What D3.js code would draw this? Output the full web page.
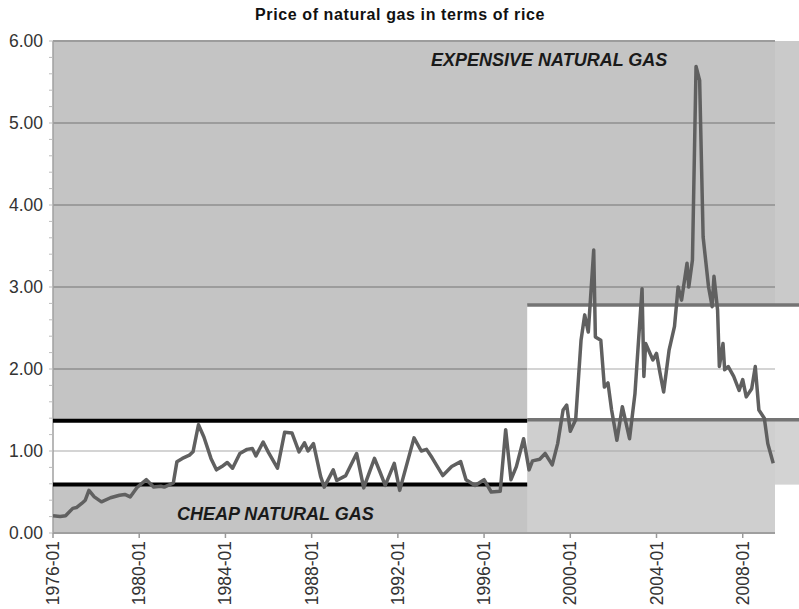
<!DOCTYPE html>
<html><head><meta charset="utf-8">
<script src="https://cdn.jsdelivr.net/npm/d3@7"></script>
<style>body{margin:0;background:#fff}svg{display:block;font-family:"Liberation Sans",Arial,sans-serif}</style>
</head><body><svg id="c" width="799" height="609"></svg>
<script>
const chartTitle = "Price of natural gas in terms of rice";
const dates = ["1976-01","1976-05","1976-08","1976-12","1977-02","1977-05","1977-07","1977-09","1977-12","1978-04","1978-09","1979-02","1979-05","1979-08","1979-12","1980-05","1980-09","1981-01","1981-03","1981-08","1981-10","1982-01","1982-05","1982-07","1982-10","1983-01","1983-05","1983-08","1983-11","1984-02","1984-05","1984-09","1985-01","1985-04","1985-06","1985-10","1986-01","1986-06","1986-10","1987-02","1987-06","1987-09","1987-11","1988-02","1988-06","1988-08","1989-01","1989-03","1989-08","1990-02","1990-06","1990-12","1991-03","1991-06","1991-11","1992-02","1992-10","1993-02","1993-05","1993-08","1994-02","1994-07","1994-12","1995-03","1995-08","1996-01","1996-05","1996-10","1997-01","1997-04","1997-07","1997-11","1998-02","1998-04","1998-08","1998-11","1999-03","1999-06","1999-09","1999-11","2000-01","2000-04","2000-07","2000-09","2000-11","2001-02","2001-03","2001-06","2001-08","2001-10","2001-12","2002-03","2002-06","2002-10","2003-01","2003-05","2003-06","2003-07","2003-11","2004-01","2004-03","2004-05","2004-08","2004-11","2005-01","2005-03","2005-06","2005-07","2005-09","2005-11","2006-01","2006-03","2006-06","2006-08","2006-09","2006-11","2006-12","2007-02","2007-03","2007-05","2007-08","2007-11","2008-01","2008-03","2008-06","2008-08","2008-10","2009-01","2009-03","2009-06"];
const values = [0.21,0.20,0.21,0.30,0.31,0.36,0.40,0.52,0.44,0.38,0.43,0.46,0.47,0.44,0.56,0.65,0.56,0.57,0.56,0.61,0.87,0.91,0.95,0.99,1.32,1.17,0.91,0.77,0.81,0.86,0.79,0.97,1.02,1.03,0.94,1.11,0.98,0.79,1.23,1.22,0.99,1.10,1.00,1.09,0.69,0.56,0.77,0.64,0.70,0.97,0.55,0.91,0.75,0.58,0.85,0.52,1.16,1.00,1.02,0.92,0.70,0.81,0.87,0.65,0.58,0.65,0.50,0.51,1.26,0.65,0.81,1.15,0.77,0.88,0.90,0.97,0.83,1.09,1.50,1.56,1.24,1.38,2.35,2.66,2.45,3.45,2.39,2.35,1.78,1.83,1.50,1.13,1.54,1.15,1.70,2.98,1.91,2.31,2.11,2.19,1.95,1.72,2.23,2.52,3.00,2.84,3.29,3.00,3.33,5.69,5.52,3.61,3.00,2.76,3.13,2.72,2.03,2.31,1.99,2.03,1.91,1.74,1.87,1.66,1.76,2.03,1.50,1.40,1.09,0.85];
const yTicks = [0,1,2,3,4,5,6];
const xTickLabels = ["1976-01","1980-01","1984-01","1988-01","1992-01","1996-01","2000-01","2004-01","2008-01"];
const cheapBand = [0.59, 1.37];
const expensiveBand = [1.38, 2.78];
const regimeBreak = "1998-01";
const domainEnd = "2009-07";
const labelExpensive = "EXPENSIVE NATURAL GAS";
const labelCheap = "CHEAP NATURAL GAS";

const parse = d3.timeParse("%Y-%m");
const svg = d3.select("#c");
const L = 53, R = 775, T = 41, B = 533, W = 799;
const x = d3.scaleTime().domain([parse(dates[0]), parse(domainEnd)]).range([L, R]);
const y = d3.scaleLinear().domain([0, 6]).range([B, T]);
const xb = x(parse(regimeBreak));

// background
svg.append("rect").attr("x", L).attr("y", T).attr("width", R - L).attr("height", B - T).attr("fill", "#c4c4c4");
svg.append("rect").attr("x", R).attr("y", T).attr("width", W - R).attr("height", y(expensiveBand[1]) - T).attr("fill", "#cacaca");
svg.append("rect").attr("x", xb).attr("y", y(expensiveBand[0])).attr("width", R - xb).attr("height", B - y(expensiveBand[0])).attr("fill", "#cfcfcf");
svg.append("rect").attr("x", R).attr("y", y(expensiveBand[0])).attr("width", W - R).attr("height", y(cheapBand[0]) - y(expensiveBand[0])).attr("fill", "#d3d3d3");

// dark gridlines
svg.append("g").selectAll("line").data(yTicks).join("line")
  .attr("x1", L).attr("x2", R).attr("y1", d => y(d)).attr("y2", d => y(d))
  .attr("stroke", "#9c9c9c").attr("stroke-width", 2);

// white bands
const bands = [
  {x0: L, x1: xb, lo: cheapBand[0], hi: cheapBand[1]},
  {x0: xb, x1: W, lo: expensiveBand[0], hi: expensiveBand[1]}
];
svg.append("g").selectAll("rect").data(bands).join("rect")
  .attr("x", d => d.x0).attr("y", d => y(d.hi)).attr("width", d => d.x1 - d.x0)
  .attr("height", d => y(d.lo) - y(d.hi)).attr("fill", "#fff");
const lightZones = [
  {x0: L, x1: xb, lo: cheapBand[0], hi: cheapBand[1]},
  {x0: xb, x1: R, lo: expensiveBand[0], hi: expensiveBand[1]},
  {x0: xb, x1: R, lo: 0.05, hi: expensiveBand[0]}
];
lightZones.forEach(z => {
  svg.append("g").selectAll("line").data(yTicks.filter(t => t > z.lo && t < z.hi)).join("line")
    .attr("x1", z.x0).attr("x2", z.x1).attr("y1", d => y(d)).attr("y2", d => y(d))
    .attr("stroke", "#c6c6c6").attr("stroke-width", 1.5);
});

// axes
svg.append("line").attr("x1", L).attr("x2", L).attr("y1", T).attr("y2", B).attr("stroke", "#a0a0a0").attr("stroke-width", 1.5);
svg.append("line").attr("x1", L).attr("x2", R).attr("y1", B).attr("y2", B).attr("stroke", "#a0a0a0").attr("stroke-width", 1.5);
const minor = d3.range(0, 6.001, 0.2);
svg.append("g").selectAll("line").data(minor).join("line")
  .attr("x1", L - 4).attr("x2", L).attr("y1", d => y(d)).attr("y2", d => y(d))
  .attr("stroke", "#bbb").attr("stroke-width", 1);
svg.append("g").selectAll("line").data(xTickLabels).join("line")
  .attr("x1", d => x(parse(d))).attr("x2", d => x(parse(d))).attr("y1", B).attr("y2", B + 5)
  .attr("stroke", "#999").attr("stroke-width", 1.5);

svg.append("g").selectAll("text").data(yTicks).join("text")
  .attr("x", 43).attr("y", d => y(d) + 6).attr("text-anchor", "end")
  .attr("font-size", 17.5).attr("fill", "#333").text(d => d3.format(".2f")(d));
svg.append("g").selectAll("text").data(xTickLabels).join("text")
  .attr("transform", d => `translate(${x(parse(d)) + 6},541) rotate(-90)`)
  .attr("text-anchor", "end").attr("font-size", 17.5).attr("fill", "#333").text(d => d);

// regime lines
svg.append("g").selectAll("line").data(cheapBand).join("line")
  .attr("x1", L).attr("x2", xb).attr("y1", d => y(d)).attr("y2", d => y(d))
  .attr("stroke", "#000").attr("stroke-width", 4);
svg.append("g").selectAll("line").data(expensiveBand).join("line")
  .attr("x1", xb).attr("x2", W).attr("y1", d => y(d)).attr("y2", d => y(d))
  .attr("stroke", "#747474").attr("stroke-width", 3.5);

// data line
const pts = dates.map((d, i) => [parse(d), values[i]]);
svg.append("path").datum(pts)
  .attr("d", d3.line().x(d => x(d[0])).y(d => y(d[1])))
  .attr("fill", "none").attr("stroke", "#606060").attr("stroke-width", 3.5).attr("stroke-linejoin", "round");

// labels
svg.append("text").attr("x", 400).attr("y", 20).attr("text-anchor", "middle")
  .attr("font-size", 16).attr("letter-spacing", 0.6).attr("font-weight", "bold").attr("fill", "#111").text(chartTitle);
svg.append("text").attr("x", 431).attr("y", 66).attr("font-size", 18).attr("font-weight", "bold")
  .attr("font-style", "italic").attr("fill", "#1a1a1a").text(labelExpensive);
svg.append("text").attr("x", 177).attr("y", 520).attr("font-size", 18).attr("font-weight", "bold")
  .attr("font-style", "italic").attr("fill", "#1a1a1a").text(labelCheap);
</script></body></html>
